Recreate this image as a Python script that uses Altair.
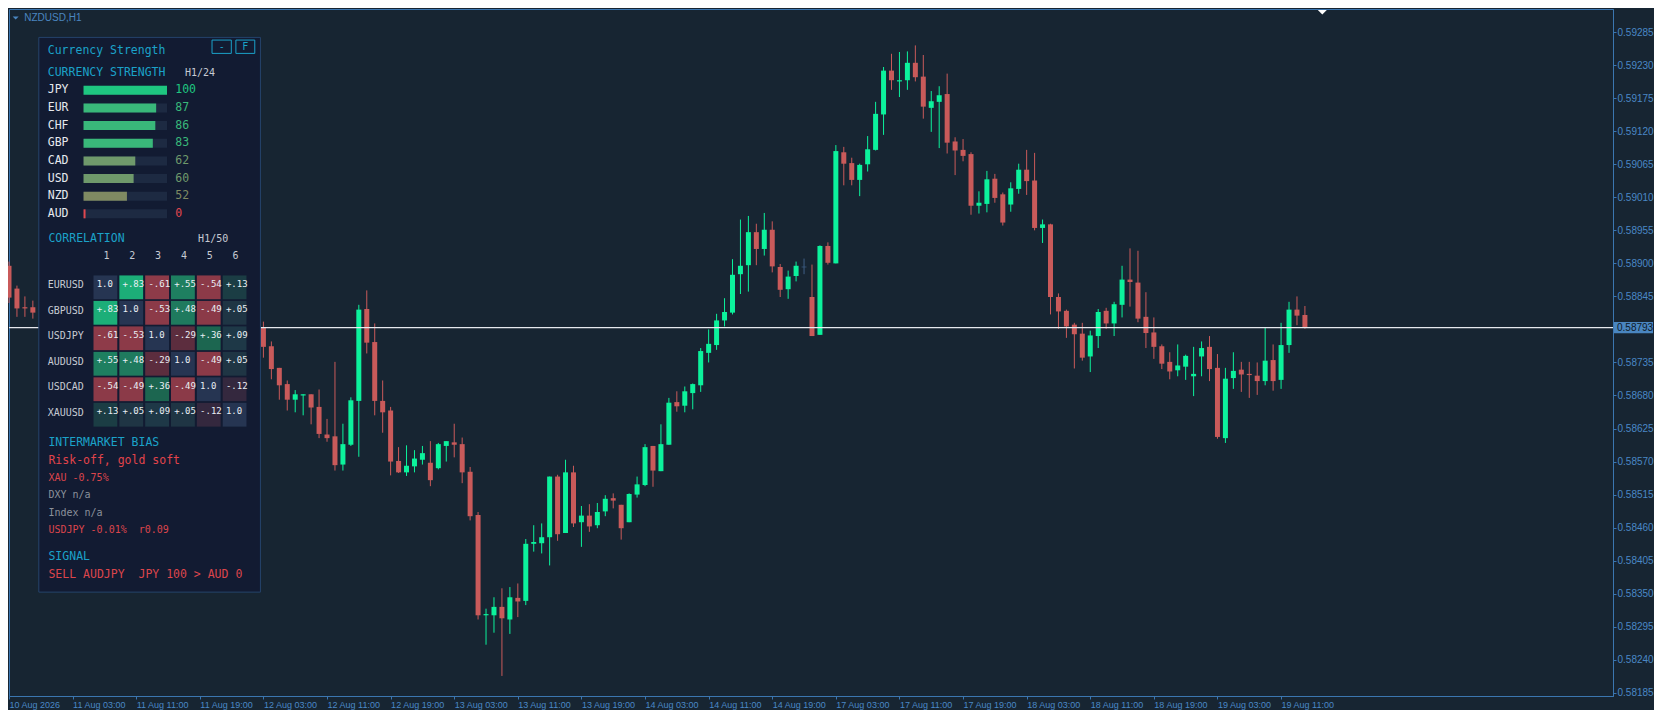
import json
import pandas as pd
import altair as alt

# ------------------------------------------------------------------ data
symbol_title = "NZDUSD,H1"
time_labels = ["10 Aug 2026", "11 Aug 03:00", "11 Aug 11:00", "11 Aug 19:00", "12 Aug 03:00",
               "12 Aug 11:00", "12 Aug 19:00", "13 Aug 03:00", "13 Aug 11:00", "13 Aug 19:00",
               "14 Aug 03:00", "14 Aug 11:00", "14 Aug 19:00", "17 Aug 03:00", "17 Aug 11:00",
               "17 Aug 19:00", "18 Aug 03:00", "18 Aug 11:00", "18 Aug 19:00", "19 Aug 03:00",
               "19 Aug 11:00"]
time_tick_bars = [0, 8, 16, 24, 32, 40, 48, 56, 64, 72, 80, 88, 96, 104, 112, 120, 128, 136, 144, 152, 160]
price_ticks = [0.59285, 0.59230, 0.59175, 0.59120, 0.59065, 0.59010, 0.58955, 0.58900, 0.58845,
               0.58735, 0.58680, 0.58625, 0.58570, 0.58515, 0.58460, 0.58405, 0.58350, 0.58295,
               0.58240, 0.58185]
current_price = 0.58793

bar_index = [0, 1, 2, 3] + list(range(32, 164))
open_ = [0.58896, 0.58858, 0.58827, 0.58827,
         0.58793, 0.58762, 0.58726, 0.58699, 0.58673, 0.58680, 0.58682, 0.58661, 0.58615, 0.58612,
         0.58565, 0.58598, 0.58671, 0.58824, 0.58769, 0.58671, 0.58655, 0.58571, 0.58552, 0.58562,
         0.58573, 0.58568, 0.58559, 0.58596, 0.58602, 0.58599, 0.58553, 0.58481, 0.58314, 0.58314,
         0.58328, 0.58307, 0.58343, 0.58338, 0.58433, 0.58434, 0.58444, 0.58545, 0.58451, 0.58552,
         0.58469, 0.58480, 0.58464, 0.58487, 0.58509, 0.58498, 0.58469, 0.58515, 0.58531, 0.58596,
         0.58554, 0.58598, 0.58669, 0.58663, 0.58684, 0.58697, 0.58751, 0.58764, 0.58805, 0.58818,
         0.58882, 0.58897, 0.58952, 0.58924, 0.58956, 0.58894, 0.58857, 0.58879, 0.58894, 0.58844,
         0.58781, 0.58929, 0.58900, 0.59085, 0.59067, 0.59039, 0.59065, 0.59089, 0.59148, 0.59221,
         0.59203, 0.59205, 0.59234, 0.59211, 0.59159, 0.59169, 0.59182, 0.59103, 0.59089, 0.59082,
         0.58996, 0.58999, 0.59041, 0.59015, 0.58998, 0.59024, 0.59056, 0.59038, 0.58959, 0.58965,
         0.58844, 0.58821, 0.58798, 0.58783, 0.58745, 0.58779, 0.58821, 0.58800, 0.58831, 0.58873,
         0.58868, 0.58811, 0.58785, 0.58762, 0.58736, 0.58722, 0.58728, 0.58712, 0.58745, 0.58761,
         0.58726, 0.58609, 0.58709, 0.58723, 0.58716, 0.58713, 0.58704, 0.58739, 0.58706, 0.58764,
         0.58823, 0.58814]
high = [0.58903, 0.58863, 0.58845, 0.58838,
        0.58803, 0.58770, 0.58726, 0.58705, 0.58689, 0.58682, 0.58682, 0.58690, 0.58641, 0.58736,
        0.58633, 0.58677, 0.58831, 0.58855, 0.58800, 0.58705, 0.58661, 0.58594, 0.58597, 0.58589,
        0.58596, 0.58604, 0.58601, 0.58604, 0.58633, 0.58610, 0.58561, 0.58486, 0.58325, 0.58344,
        0.58359, 0.58361, 0.58367, 0.58441, 0.58464, 0.58467, 0.58545, 0.58548, 0.58573, 0.58563,
        0.58496, 0.58499, 0.58501, 0.58514, 0.58517, 0.58498, 0.58517, 0.58545, 0.58599, 0.58596,
        0.58632, 0.58676, 0.58687, 0.58695, 0.58700, 0.58759, 0.58790, 0.58816, 0.58842, 0.58907,
        0.58973, 0.58979, 0.58966, 0.58984, 0.58970, 0.58899, 0.58888, 0.58903, 0.58908, 0.58898,
        0.58930, 0.58935, 0.59097, 0.59094, 0.59076, 0.59066, 0.59112, 0.59169, 0.59227, 0.59249,
        0.59252, 0.59253, 0.59263, 0.59247, 0.59187, 0.59195, 0.59216, 0.59110, 0.59107, 0.59085,
        0.59020, 0.59054, 0.59049, 0.59018, 0.59035, 0.59066, 0.59089, 0.59084, 0.58973, 0.58966,
        0.58850, 0.58823, 0.58801, 0.58801, 0.58788, 0.58824, 0.58826, 0.58836, 0.58896, 0.58925,
        0.58921, 0.58852, 0.58810, 0.58765, 0.58752, 0.58765, 0.58748, 0.58761, 0.58770, 0.58779,
        0.58749, 0.58726, 0.58752, 0.58736, 0.58736, 0.58735, 0.58793, 0.58765, 0.58801, 0.58836,
        0.58845, 0.58829]
low = [0.58834, 0.58811, 0.58811, 0.58808,
       0.58743, 0.58707, 0.58673, 0.58655, 0.58652, 0.58647, 0.58632, 0.58609, 0.58603, 0.58555,
       0.58555, 0.58596, 0.58578, 0.58750, 0.58647, 0.58618, 0.58547, 0.58551, 0.58546, 0.58552,
       0.58565, 0.58529, 0.58557, 0.58570, 0.58577, 0.58534, 0.58472, 0.58307, 0.58265, 0.58285,
       0.58213, 0.58283, 0.58311, 0.58331, 0.58420, 0.58417, 0.58397, 0.58438, 0.58451, 0.58461,
       0.58428, 0.58453, 0.58459, 0.58479, 0.58492, 0.58440, 0.58469, 0.58510, 0.58529, 0.58528,
       0.58554, 0.58598, 0.58653, 0.58652, 0.58657, 0.58686, 0.58735, 0.58756, 0.58795, 0.58815,
       0.58849, 0.58853, 0.58897, 0.58913, 0.58885, 0.58844, 0.58841, 0.58870, 0.58882, 0.58779,
       0.58781, 0.58898, 0.58900, 0.59030, 0.59030, 0.59012, 0.59053, 0.59088, 0.59114, 0.59189,
       0.59177, 0.59189, 0.59203, 0.59141, 0.59119, 0.59092, 0.59083, 0.59047, 0.59070, 0.58981,
       0.58983, 0.58985, 0.59001, 0.58963, 0.58986, 0.59016, 0.59014, 0.58955, 0.58934, 0.58815,
       0.58791, 0.58776, 0.58725, 0.58738, 0.58719, 0.58759, 0.58791, 0.58779, 0.58810, 0.58828,
       0.58802, 0.58759, 0.58741, 0.58724, 0.58707, 0.58712, 0.58706, 0.58679, 0.58712, 0.58704,
       0.58608, 0.58601, 0.58691, 0.58686, 0.58676, 0.58681, 0.58697, 0.58688, 0.58691, 0.58751,
       0.58797, 0.58791]
close = [0.58843, 0.58825, 0.58825, 0.58818,
         0.58761, 0.58724, 0.58697, 0.58673, 0.58682, 0.58682, 0.58660, 0.58616, 0.58609, 0.58564,
         0.58599, 0.58672, 0.58823, 0.58768, 0.58671, 0.58652, 0.58570, 0.58552, 0.58563, 0.58575,
         0.58584, 0.58539, 0.58599, 0.58604, 0.58598, 0.58552, 0.58479, 0.58314, 0.58316, 0.58328,
         0.58309, 0.58344, 0.58337, 0.58433, 0.58436, 0.58444, 0.58545, 0.58449, 0.58552, 0.58467,
         0.58480, 0.58462, 0.58486, 0.58508, 0.58505, 0.58459, 0.58516, 0.58532, 0.58594, 0.58555,
         0.58599, 0.58668, 0.58662, 0.58687, 0.58699, 0.58754, 0.58766, 0.58805, 0.58819, 0.58881,
         0.58896, 0.58952, 0.58924, 0.58956, 0.58895, 0.58856, 0.58878, 0.58896, 0.58894, 0.58779,
         0.58929, 0.58901, 0.59087, 0.59066, 0.59039, 0.59064, 0.59090, 0.59149, 0.59221, 0.59205,
         0.59205, 0.59234, 0.59210, 0.59161, 0.59170, 0.59180, 0.59101, 0.59088, 0.59079, 0.58996,
         0.59001, 0.59040, 0.59009, 0.58968, 0.59025, 0.59056, 0.59037, 0.58959, 0.58965, 0.58844,
         0.58820, 0.58795, 0.58782, 0.58743, 0.58780, 0.58819, 0.58800, 0.58832, 0.58873, 0.58869,
         0.58808, 0.58784, 0.58761, 0.58733, 0.58720, 0.58730, 0.58746, 0.58716, 0.58759, 0.58724,
         0.58611, 0.58708, 0.58721, 0.58715, 0.58714, 0.58704, 0.58738, 0.58704, 0.58764, 0.58823,
         0.58813, 0.58793]

panel_title = "Currency Strength"
panel_buttons = ["-", "F"]
strength_header = "CURRENCY STRENGTH"
strength_tf = "H1/24"
currencies = ["JPY", "EUR", "CHF", "GBP", "CAD", "USD", "NZD", "AUD"]
strength = [100, 87, 86, 83, 62, 60, 52, 0]

corr_header = "CORRELATION"
corr_tf = "H1/50"
corr_cols = ["1", "2", "3", "4", "5", "6"]
corr_pairs = ["EURUSD", "GBPUSD", "USDJPY", "AUDUSD", "USDCAD", "XAUUSD"]
corr_values = [
    [1.0, 0.83, -0.61, 0.55, -0.54, 0.13],
    [0.83, 1.0, -0.53, 0.48, -0.49, 0.05],
    [-0.61, -0.53, 1.0, -0.29, 0.36, 0.09],
    [0.55, 0.48, -0.29, 1.0, -0.49, 0.05],
    [-0.54, -0.49, 0.36, -0.49, 1.0, -0.12],
    [0.13, 0.05, 0.09, 0.05, -0.12, 1.0],
]

bias_header = "INTERMARKET BIAS"
bias_main = "Risk-off, gold soft"
bias_xau = "XAU -0.75%"
bias_dxy = "DXY n/a"
bias_index = "Index n/a"
bias_usdjpy = "USDJPY -0.01%\u00a0 r0.09"
signal_header = "SIGNAL"
signal_text = "SELL AUDJPY\u00a0 JPY 100 > AUD 0"

# ------------------------------------------------------------------ style / layout
BG = "#172532"
PANEL_BG = "#121b32"
PANEL_BORDER = "#25436b"
FRAME = "#3b76b0"
AXIS_TEXT = "#4a88c6"
GREEN = "#0cf29c"
RED = "#c95a5a"
DOJI = "#3f5f86"
CYAN = "#1ba2c9"
GREY = "#c6cad2"
WHITE = "#e6e9ee"
DIM = "#8b919b"
TXT_RED = "#dc454c"
MONO = "DejaVu Sans Mono"
SANS = "Liberation Sans"

W, H = 1604, 687
PAD = {"left": 1, "top": 1, "right": 41, "bottom": 14}
sx = W / 1614.0
sy = H / 701.0


def X(r):
    return round((r - 2) * sx, 2)


def Y(r):
    return round((r - 2) * sy, 2)


ONE = pd.DataFrame({"k": [0]})

# ------------------------------------------------------------------ candles
cdf = pd.DataFrame({"i": bar_index, "o": open_, "h": high, "l": low, "c": close})

xscale = alt.Scale(domain=[0, 201.75], nice=False, zero=False)
yscale = alt.Scale(domain=[0.581796, 0.593236], nice=False, zero=False)

label_expr = json.dumps(time_labels) + "[round(datum.value / 8)]"
x_axis = alt.Axis(values=time_tick_bars, labelExpr=label_expr, labelAlign="left", labelPadding=1,
                  tickSize=3, labelFontSize=9, labelFont=SANS, labelColor=AXIS_TEXT,
                  tickColor=FRAME, domainColor=FRAME, grid=False, labelFlush=False,
                  labelOverlap=False, orient="bottom")
y_axis = alt.Axis(values=price_ticks, format=".5f", orient="right", tickSize=3, labelPadding=1,
                  labelFontSize=10, labelFont=SANS, labelColor=AXIS_TEXT, tickColor=FRAME,
                  domainColor=FRAME, grid=False, labelFlush=False, labelOverlap=False)


def xe():
    return alt.X("i:Q", scale=xscale, axis=x_axis, title=None)


def ye(f):
    return alt.Y(f"{f}:Q", scale=yscale, axis=y_axis, title=None)


base = alt.Chart(cdf).transform_calculate(
    dir="datum.c > datum.o ? 'up' : (datum.c < datum.o ? 'down' : 'flat')"
)
col_enc = alt.Color("dir:N", scale=alt.Scale(domain=["up", "down", "flat"], range=[GREEN, RED, DOJI]),
                    legend=None)

wicks = base.mark_rule(strokeWidth=1).encode(x=xe(), y=ye("l"), y2="h:Q", color=col_enc)
bodies = base.mark_rule(strokeWidth=5).encode(x=xe(), y=ye("o"), y2="c:Q", color=col_enc)
doji = base.transform_filter("datum.o == datum.c").mark_tick(
    orient="horizontal", size=5, thickness=1).encode(x=xe(), y=ye("o"), color=col_enc)

pdf = pd.DataFrame({"p": [current_price]})
price_line = alt.Chart(pdf).mark_rule(color=WHITE, strokeWidth=1.3).encode(y=ye("p"))
TAG_PATH = "M-1,-0.29L1,-0.29L1,0.29L-1,0.29Z"
price_tag = alt.Chart(pdf).mark_point(shape=TAG_PATH, size=39 * 39, filled=True, fill="#4a86c0",
                                      opacity=1, strokeWidth=0).encode(x=alt.value(W + 20.5), y=ye("p"))
price_tag_text = alt.Chart(pdf).mark_text(align="left", baseline="middle", font=SANS, fontSize=10,
                                          color="#0e1a28").encode(
    x=alt.value(W + 4), y=ye("p"), text=alt.Text("p:Q", format=".5f"))

candles = alt.layer(wicks, bodies, doji, price_line, price_tag, price_tag_text)


# ------------------------------------------------------------------ overlay helpers
def txt(s, x, y, size, color, font=MONO, align="left"):
    return alt.Chart(pd.DataFrame({"t": [s]})).mark_text(
        align=align, baseline="middle", font=font, fontSize=size, color=color
    ).encode(text="t:N", x=alt.value(x), y=alt.value(y))


def box(x1, y1, x2, y2, **kw):
    return alt.Chart(ONE).mark_rect(**kw).encode(
        x=alt.value(x1), x2=alt.value(x2), y=alt.value(y1), y2=alt.value(y2))


TRI = "M-1,-0.5L1,-0.5L0,0.5Z"
overlay = []

# chart header
overlay.append(alt.Chart(ONE).mark_point(shape=TRI, size=36, filled=True, fill="#4a86c0", opacity=1,
                                         strokeWidth=0).encode(x=alt.value(X(8.7)), y=alt.value(Y(11.2))))
overlay.append(txt(symbol_title, X(17.3), Y(11), 10, "#4a86c0", font=SANS))
overlay.append(alt.Chart(ONE).mark_point(shape=TRI, size=81, filled=True, fill="#ffffff", opacity=1,
                                         strokeWidth=0).encode(x=alt.value(X(1323.5)), y=alt.value(Y(5.3))))

# panel
overlay.append(box(X(32), Y(31), X(255), Y(597), fill=PANEL_BG, stroke=PANEL_BORDER, strokeWidth=1))
overlay.append(txt(panel_title, X(41), Y(45), 11.5, CYAN))
overlay.append(box(X(206.3), Y(33.7), X(225.7), Y(47.3), fillOpacity=0, stroke=CYAN, strokeWidth=1))
overlay.append(box(X(230.3), Y(33.7), X(249.3), Y(47.3), fillOpacity=0, stroke=CYAN, strokeWidth=1))
overlay.append(txt(panel_buttons[0], X(216), Y(40.5), 10, CYAN, align="center"))
overlay.append(txt(panel_buttons[1], X(239.8), Y(40.5), 10, CYAN, align="center"))

overlay.append(txt(strength_header, X(41), Y(67), 11.5, CYAN))
overlay.append(txt(strength_tf, X(179), Y(67), 10, GREY))

sdf = pd.DataFrame({"cur": currencies, "v": strength})
yS = alt.Y("cur:N", scale=alt.Scale(type="point", domain=currencies, range=[Y(85), Y(211)], padding=0),
           axis=None)
s_scale = alt.Scale(domain=[0, 52, 60, 62, 83, 87, 100],
                    range=["#e0474f", "#7f8a62", "#6f996b", "#6f996b", "#39b87a", "#39b87a", "#1ec680"])
overlay.append(alt.Chart(sdf).mark_rule(strokeWidth=9, color="#1d2a42").encode(
    x=alt.value(X(77)), x2=alt.value(X(161)), y=yS))
overlay.append(alt.Chart(sdf).transform_calculate(vv="max(datum.v, 2.4)").mark_rule(strokeWidth=9).encode(
    x=alt.X("vv:Q", scale=alt.Scale(domain=[0, 100], range=[X(77), X(161)]), axis=None),
    x2=alt.value(X(77)), y=yS, color=alt.Color("v:Q", scale=s_scale, legend=None)))
overlay.append(alt.Chart(sdf).mark_text(align="left", baseline="middle", font=MONO, fontSize=11.5,
                                        color=WHITE).encode(x=alt.value(X(41)), y=yS, text="cur:N"))
overlay.append(alt.Chart(sdf).mark_text(align="left", baseline="middle", font=MONO, fontSize=11.5).encode(
    x=alt.value(X(169.3)), y=yS, text="v:Q", color=alt.Color("v:Q", scale=s_scale, legend=None)))

# correlation
overlay.append(txt(corr_header, X(41.7), Y(236.7), 11.5, CYAN))
overlay.append(txt(corr_tf, X(192.3), Y(236.7), 10, GREY))
rows = []
for ri, pair in enumerate(corr_pairs):
    for ci in range(6):
        v = corr_values[ri][ci]
        lab = "1.0" if ri == ci else f"{v:+.2f}".replace("0.", ".", 1)
        rows.append({"row": pair, "col": ci + 1, "ri": ri, "ci": ci, "v": v, "lab": lab})
cor = pd.DataFrame(rows)
xC = alt.X("col:Q", scale=alt.Scale(domain=[1, 6], range=[X(99), X(229)]), axis=None)
yC = alt.Y("row:N", scale=alt.Scale(type="point", domain=corr_pairs, range=[Y(286), Y(416)], padding=0),
           axis=None)
c_scale = alt.Scale(domain=[-0.61, -0.49, -0.29, -0.12, 0.05, 0.09, 0.13, 0.36, 0.48, 0.55, 0.83],
                    range=["#8e3b49", "#8b3a48", "#5c2d3e", "#34283e", "#1f3544", "#1e3847", "#1b3d44",
                           "#1c6650", "#1f7a5e", "#1e7f60", "#1cae78"])
overlay.append(alt.Chart(cor).mark_square(size=23.8 * 23.8, opacity=1).encode(
    x=xC, y=yC,
    color=alt.condition("datum.ri == datum.ci", alt.value("#263552"),
                        alt.Color("v:Q", scale=c_scale, legend=None))))
overlay.append(alt.Chart(cor).mark_text(align="left", baseline="middle", dx=-8.7, dy=-3.5, font=MONO,
                                        fontSize=9, color="#e9eef4").encode(x=xC, y=yC, text="lab:N"))
hdf = pd.DataFrame({"col": [1, 2, 3, 4, 5, 6], "h": corr_cols})
overlay.append(alt.Chart(hdf).mark_text(align="center", baseline="middle", dx=1, font=MONO, fontSize=10,
                                        color=GREY).encode(x=xC, y=alt.value(Y(254.3)), text="h:N"))
overlay.append(alt.Chart(pd.DataFrame({"row": corr_pairs})).mark_text(
    align="left", baseline="middle", dy=-2, font=MONO, fontSize=10, color=GREY).encode(
    x=alt.value(X(41)), y=yC, text="row:N"))

# intermarket bias & signal
overlay.append(txt(bias_header, X(41.7), Y(445), 11.5, CYAN))
overlay.append(txt(bias_main, X(41.7), Y(463.3), 11.5, "#e2444b"))
overlay.append(txt(bias_xau, X(41.7), Y(480.3), 10, TXT_RED))
overlay.append(txt(bias_dxy, X(41.7), Y(498.3), 10, DIM))
overlay.append(txt(bias_index, X(41.7), Y(516), 10, DIM))
overlay.append(txt(bias_usdjpy, X(41.7), Y(534), 10, TXT_RED))
overlay.append(txt(signal_header, X(41.7), Y(561), 11.5, CYAN))
overlay.append(txt(signal_text, X(41.7), Y(580), 11.5, TXT_RED))

chart = alt.layer(candles, *overlay).resolve_scale(
    x="independent", y="independent", color="independent"
).properties(
    width=W, height=H, padding=PAD, autosize=alt.AutoSizeParams(type="none"), background=BG
).configure_view(stroke=FRAME, strokeWidth=1)

chart.save("out.html", embed_options={"renderer": "svg", "actions": False})
